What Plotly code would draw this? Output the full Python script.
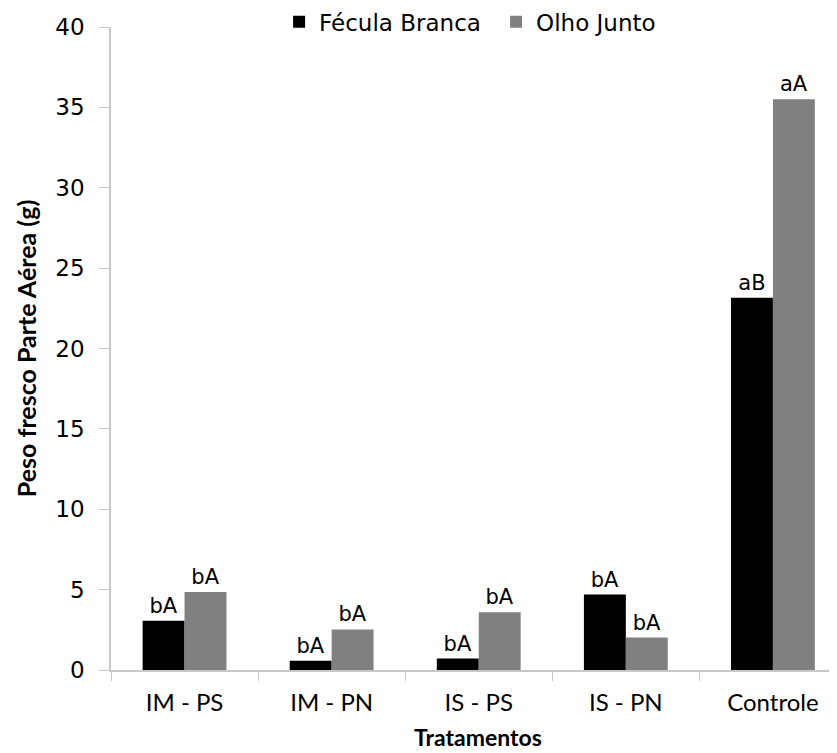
import plotly.graph_objects as go

categories = ["IM - PS", "IM - PN", "IS - PS", "IS - PN", "Controle"]
fecula_branca = [3.07, 0.58, 0.71, 4.69, 23.16]
olho_junto = [4.85, 2.52, 3.59, 2.02, 35.5]
labels_fb = ["bA", "bA", "bA", "bA", "aB"]
labels_oj = ["bA", "bA", "bA", "bA", "aA"]

cal = "Lato, Open Sans, sans-serif"
dv = "DejaVu Sans, sans-serif"

fig = go.Figure()
fig.add_trace(go.Bar(name="Fécula Branca", x=categories, y=fecula_branca,
                     marker=dict(color="#000000", line=dict(width=0)),
                     text=labels_fb, textposition="outside", cliponaxis=False,
                     textfont=dict(family=dv, size=21, color="#000")))
fig.add_trace(go.Bar(name="Olho Junto", x=categories, y=olho_junto,
                     marker=dict(color="#808080", line=dict(width=0)),
                     text=labels_oj, textposition="outside", cliponaxis=False,
                     textfont=dict(family=dv, size=21, color="#000")))

fig.update_layout(
    width=837, height=753,
    margin=dict(l=103, r=0, t=19, b=91, autoexpand=False),
    plot_bgcolor="white", paper_bgcolor="white",
    barmode="group", bargap=0.43, bargroupgap=0,
    showlegend=True,
    legend=dict(orientation="h", x=0.229, xanchor="left",
                y=1.008, yanchor="middle",
                font=dict(family=dv, size=23, color="#000"), bgcolor="rgba(0,0,0,0)",
                entrywidth=172, entrywidthmode="pixels"),
    uniformtext=dict(mode="show", minsize=10),
)
fig.update_xaxes(
    range=[-0.5, 4.49], showline=True, linecolor="#c8c8c8", linewidth=1.5,
    ticks="outside", tickson="boundaries", ticklen=9, tickcolor="#c8c8c8",
    ticklabelstandoff=10,
    tickfont=dict(family=cal, size=24, color="#000"),
    title=dict(text="<b>Tratamentos</b>", font=dict(family=cal, size=23, color="#000"), standoff=15),
    showgrid=False, zeroline=False,
)
fig.update_yaxes(
    range=[0, 40], dtick=5, showline=True, linecolor="#c8c8c8", linewidth=1.5,
    ticks="outside", ticklen=10, tickcolor="#c8c8c8",
    ticklabelstandoff=10,
    tickfont=dict(family=dv, size=23, color="#000"),
    title=dict(text="<b>Peso fresco Parte Aérea (g)</b>", font=dict(family=cal, size=25, color="#000"), standoff=12),
    showgrid=False, zeroline=False,
)
fig.write_html("out.html")
